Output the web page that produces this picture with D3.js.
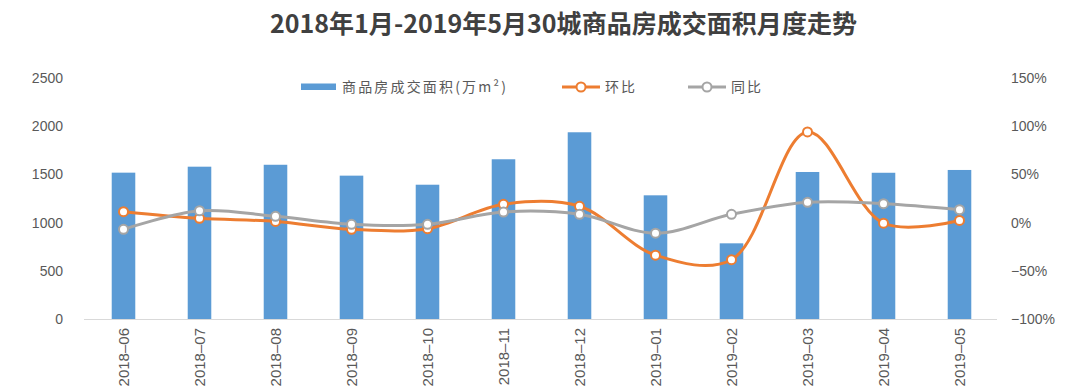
<!DOCTYPE html>
<html>
<head>
<meta charset="utf-8">
<script src="https://cdn.jsdelivr.net/npm/d3@7/dist/d3.min.js"></script>
<style>
  html, body { margin: 0; padding: 0; background: #fff; }
  svg { display: block; }
</style>
</head>
<body>
<svg id="chart" width="1080" height="391"></svg>
<script>
const months = ["2018-06","2018-07","2018-08","2018-09","2018-10","2018-11","2018-12","2019-01","2019-02","2019-03","2019-04","2019-05"];
const area = [1518, 1580, 1600, 1487, 1393, 1657, 1937, 1283, 785, 1525, 1517, 1546];
const huanbi = [0.113, 0.044, 0.012, -0.07, -0.063, 0.19, 0.169, -0.338, -0.385, 0.94, -0.006, 0.022];
const tongbi = [-0.07, 0.123, 0.065, -0.018, -0.018, 0.11, 0.086, -0.11, 0.086, 0.21, 0.196, 0.134];
const leftTicks = [0, 500, 1000, 1500, 2000, 2500];
const rightTicks = [-1, -0.5, 0, 0.5, 1, 1.5];
const title = "2018年1月-2019年5月30城商品房成交面积月度走势";
const legendLabels = ["商品房成交面积(万m²)", "环比", "同比"];

const C_BAR = "#5B9BD5", C_HB = "#ED7D31", C_TB = "#A5A5A5", C_TXT = "#595959";
const svg = d3.select("#chart");

const x = d3.scaleBand().domain(months).range([85.5, 997.5]).paddingInner(0.69).paddingOuter(0.345);
const yL = d3.scaleLinear().domain([0, 2500]).range([319, 78]);
const yR = d3.scaleLinear().domain([-1, 1.5]).range([319, 78]);
const cx = d => x(d) + x.bandwidth() / 2;

// title
svg.append("text").attr("x", 563.5).attr("y", 33).attr("text-anchor", "middle")
  .attr("font-family", "'Noto Sans CJK SC', sans-serif").attr("font-weight", "bold")
  .attr("font-size", 25).attr("fill", "#404040")
  .attr("textLength", 587).attr("lengthAdjust", "spacingAndGlyphs")
  .text(title);

// bars
svg.append("g").selectAll("rect").data(area).join("rect")
  .attr("x", (d, i) => x(months[i])).attr("width", x.bandwidth())
  .attr("y", d => yL(d)).attr("height", d => yL(0) - yL(d))
  .attr("fill", C_BAR);

// x axis line
svg.append("line").attr("x1", 84).attr("x2", 997).attr("y1", 319.5).attr("y2", 319.5)
  .attr("stroke", "#D9D9D9").attr("stroke-width", 1);

// left axis
const axL = svg.append("g").attr("transform", "translate(63,0)")
  .call(d3.axisLeft(yL).tickValues(leftTicks).tickSize(0).tickPadding(0).tickFormat(d3.format("d")));
axL.select(".domain").remove();
axL.selectAll("text").attr("font-family", "'Liberation Sans', Arial, sans-serif").attr("font-size", 14).attr("fill", C_TXT);

// right axis
const axR = svg.append("g").attr("transform", "translate(1011,0)")
  .call(d3.axisRight(yR).tickValues(rightTicks).tickSize(0).tickPadding(0).tickFormat(d => Math.round(d * 100) + "%"));
axR.select(".domain").remove();
axR.selectAll("text").attr("font-family", "'Liberation Sans', Arial, sans-serif").attr("font-size", 14).attr("fill", C_TXT)
  .text(d => (d < 0 ? "\u2212" + Math.round(-d * 100) : Math.round(d * 100)) + "%");

// x labels
const axX = svg.append("g").attr("transform", "translate(0,319)")
  .call(d3.axisBottom(x).tickSize(0).tickPadding(0));
axX.select(".domain").remove();
axX.selectAll("text")
  .attr("font-family", "'Liberation Sans', Arial, sans-serif").attr("font-size", 15).attr("fill", C_TXT)
  .attr("transform", "rotate(-90)").attr("text-anchor", "end")
  .attr("x", -9).attr("y", 0).attr("dy", "0.35em")
  .text(d => d.replace("-", "\u2013"));

// lines
const line = d3.line().x((d, i) => cx(months[i])).y(d => yR(d)).curve(d3.curveCatmullRom.alpha(0.5));
function series(vals, color) {
  const g = svg.append("g");
  g.append("path").attr("d", line(vals)).attr("fill", "none").attr("stroke", color)
    .attr("stroke-width", 3).attr("stroke-linecap", "round");
  g.selectAll("circle").data(vals).join("circle")
    .attr("cx", (d, i) => cx(months[i])).attr("cy", d => yR(d)).attr("r", 4.5)
    .attr("fill", "#fff").attr("stroke", color).attr("stroke-width", 2);
}
series(huanbi, C_HB);
series(tongbi, C_TB);

// legend
const lg = svg.append("g").attr("font-family", "'Noto Sans CJK SC', sans-serif").attr("font-size", 14)
  .attr("letter-spacing", "2px").attr("fill", C_TXT);
lg.append("rect").attr("x", 301).attr("y", 83.5).attr("width", 35).attr("height", 6.5).attr("fill", C_BAR);
lg.append("text").attr("x", 342).attr("y", 87).attr("dy", "0.35em")
  .attr("textLength", 166).attr("lengthAdjust", "spacing").text(legendLabels[0]);
[[562, C_HB, legendLabels[1]], [688, C_TB, legendLabels[2]]].forEach(([lx, col, lab]) => {
  lg.append("line").attr("x1", lx).attr("x2", lx + 38).attr("y1", 87).attr("y2", 87).attr("stroke", col).attr("stroke-width", 3);
  lg.append("circle").attr("cx", lx + 19).attr("cy", 87).attr("r", 4.5).attr("fill", "#fff").attr("stroke", col).attr("stroke-width", 2);
  lg.append("text").attr("x", lx + 43).attr("y", 87).attr("dy", "0.35em").text(lab);
});
</script>
</body>
</html>
